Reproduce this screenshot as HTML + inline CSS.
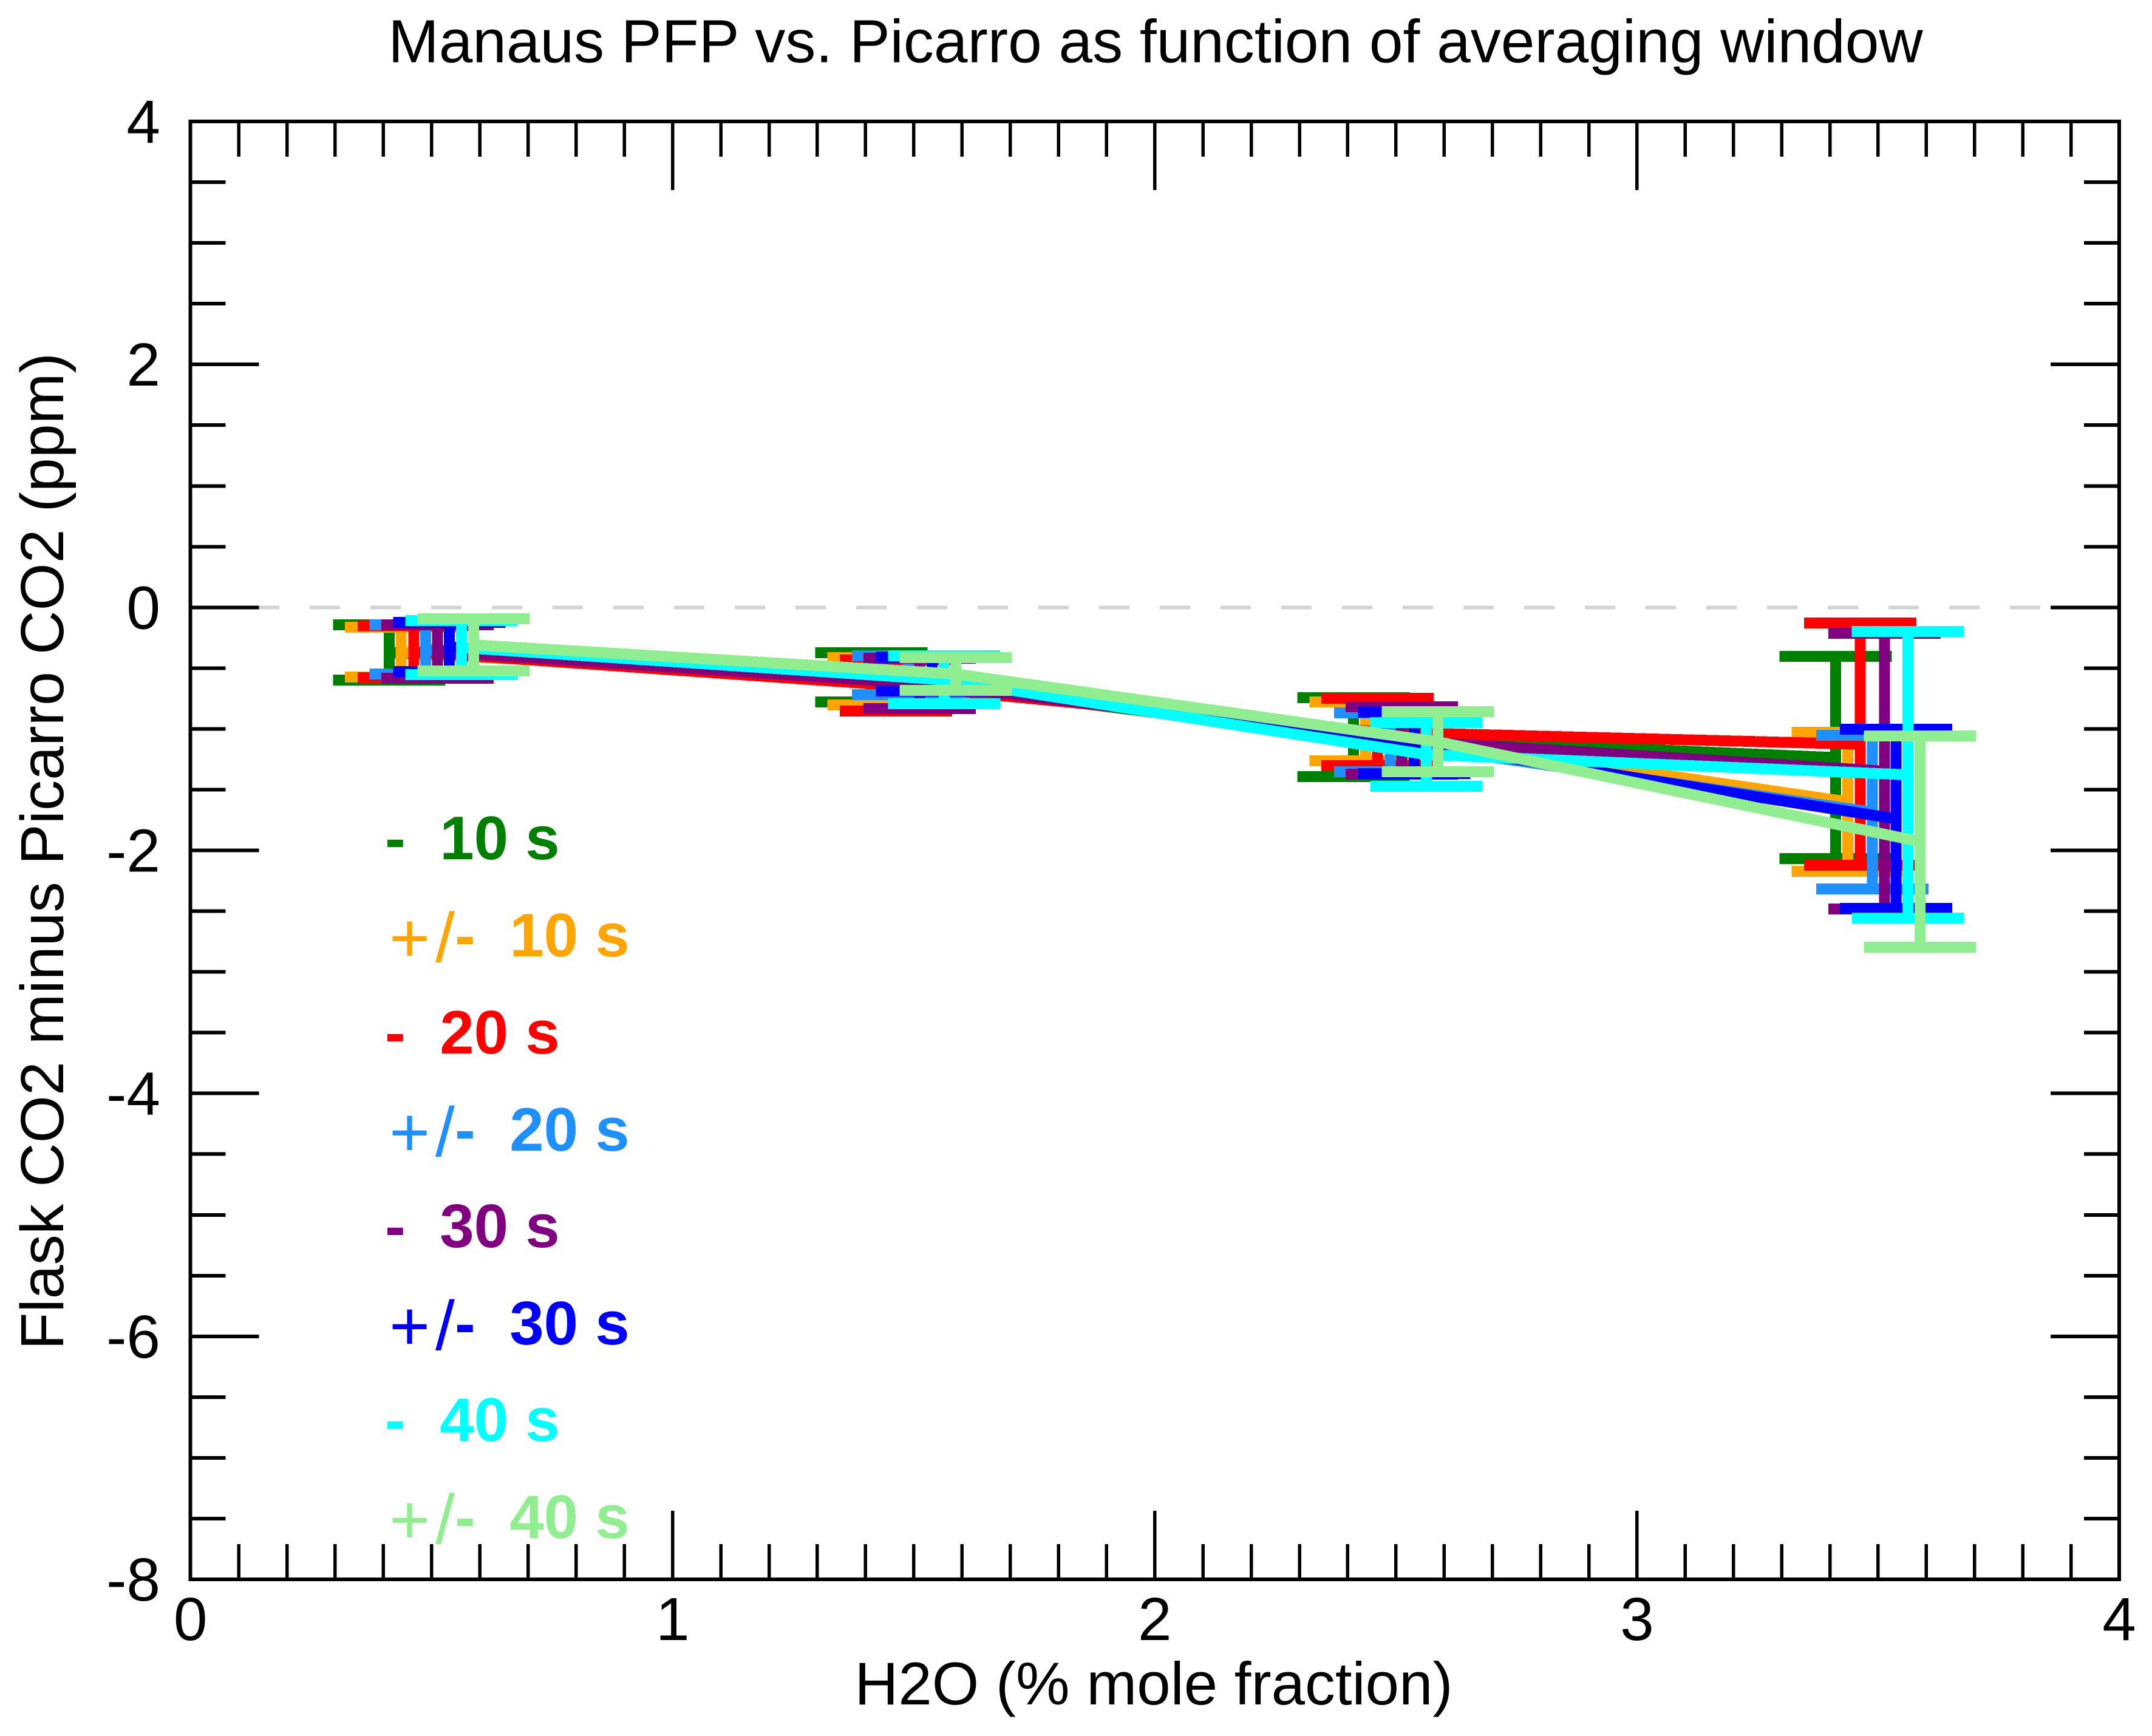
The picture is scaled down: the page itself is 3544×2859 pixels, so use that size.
<!DOCTYPE html>
<html lang="en">
<head>
<meta charset="utf-8">
<title>Manaus PFP vs. Picarro as function of averaging window</title>
<style>
html,body{margin:0;padding:0;background:#fff;width:3544px;height:2859px;overflow:hidden}
svg{display:block}
text{font-family:"Liberation Sans",Arial,sans-serif;white-space:pre;fill:#000}
.leg{font-size:101.5px;font-weight:bold}
.reg{font-size:115px;font-weight:normal}
</style>
</head>
<body>
<svg id="chart" xmlns="http://www.w3.org/2000/svg" width="3544" height="2859" viewBox="0 0 3544 2859">
  <rect x="0" y="0" width="3544" height="2859" fill="#fff"/>
  <text x="1903" y="102.7" font-size="100" text-anchor="middle">Manaus PFP vs. Picarro as function of averaging window</text>
  <text x="1900" y="2807" font-size="99.6" text-anchor="middle">H2O (% mole fraction)</text>
  <text x="0" y="0" font-size="100.5" text-anchor="middle" transform="translate(104 1402) rotate(-90)">Flask CO2 minus Picarro CO2 (ppm)</text>
  <g id="zero-layer"></g>
  <g id="series-layer"></g>
  <g id="axes-layer"></g>
  <g>
    <text class="leg" x="634" y="1415" style="fill:#008000">-  10 s</text>
    <text class="leg" y="1575" style="fill:#ffa500"><tspan class="reg" x="641" dy="9">+</tspan><tspan class="reg" x="717">/</tspan><tspan x="749" dy="-9">-  10 s</tspan></text>
    <text class="leg" x="634" y="1735" style="fill:#ff0000">-  20 s</text>
    <text class="leg" y="1895" style="fill:#1e90ff"><tspan class="reg" x="641" dy="9">+</tspan><tspan class="reg" x="717">/</tspan><tspan x="749" dy="-9">-  20 s</tspan></text>
    <text class="leg" x="634" y="2054" style="fill:#800080">-  30 s</text>
    <text class="leg" y="2214" style="fill:#0000ff"><tspan class="reg" x="641" dy="9">+</tspan><tspan class="reg" x="717">/</tspan><tspan x="749" dy="-9">-  30 s</tspan></text>
    <text class="leg" x="634" y="2373" style="fill:#00ffff">-  40 s</text>
    <text class="leg" y="2533" style="fill:#90ee90"><tspan class="reg" x="641" dy="9">+</tspan><tspan class="reg" x="717">/</tspan><tspan x="749" dy="-9">-  40 s</tspan></text>
  </g>
</svg>
<script>
// Tick values and labels
const xMajorTicks = [0, 1, 2, 3, 4];
const xTickLabels = ["0", "1", "2", "3", "4"];
const xMinorTicks = [0.1,0.2,0.3,0.4,0.5,0.6,0.7,0.8,0.9,1.1,1.2,1.3,1.4,1.5,1.6,1.7,1.8,1.9,2.1,2.2,2.3,2.4,2.5,2.6,2.7,2.8,2.9,3.1,3.2,3.3,3.4,3.5,3.6,3.7,3.8,3.9];
const yMajorTicks = [-8, -6, -4, -2, 0, 2, 4];
const yTickLabels = ["-8", "-6", "-4", "-2", "0", "2", "4"];
const yMinorTicks = [-7.5,-7,-6.5,-5.5,-5,-4.5,-3.5,-3,-2.5,-1.5,-1,-0.5,0.5,1,1.5,2.5,3,3.5];

// Series: H2O x, mean difference y, error half-height
const xMinus10 = [0.412, 1.412, 2.412, 3.412];
const yMinus10 = [-0.371, -0.576, -1.068, -1.236];
const eMinus10 = [0.227, 0.202, 0.325, 0.832];

const xPlusMinus10 = [0.437, 1.437, 2.437, 3.437];
const yPlusMinus10 = [-0.368, -0.608, -1.021, -1.600];
const ePlusMinus10 = [0.205, 0.195, 0.242, 0.572];

const xMinus20 = [0.463, 1.463, 2.462, 3.463];
const yMinus20 = [-0.365, -0.643, -1.026, -1.126];
const eMinus20 = [0.213, 0.210, 0.277, 0.997];

const xPlusMinus20 = [0.488, 1.488, 2.488, 3.488];
const yPlusMinus20 = [-0.346, -0.558, -1.111, -1.685];
const ePlusMinus20 = [0.202, 0.160, 0.242, 0.632];

const xMinus30 = [0.512, 1.512, 2.512, 3.513];
const yMinus30 = [-0.363, -0.626, -1.096, -1.348];
const eMinus30 = [0.220, 0.207, 0.277, 1.135];

const xPlusMinus30 = [0.537, 1.538, 2.538, 3.537];
const yPlusMinus30 = [-0.326, -0.548, -1.116, -1.740];
const ePlusMinus30 = [0.202, 0.140, 0.252, 0.737];

const xMinus40 = [0.562, 1.563, 2.563, 3.562];
const yMinus40 = [-0.331, -0.596, -1.211, -1.378];
const eMinus40 = [0.222, 0.197, 0.262, 1.180];

const xPlusMinus40 = [0.587, 1.587, 2.587, 3.587];
const yPlusMinus40 = [-0.308, -0.548, -1.106, -1.928];
const ePlusMinus40 = [0.215, 0.135, 0.247, 0.870];

const seriesNames = ["minus-10s", "plusminus-10s", "minus-20s", "plusminus-20s", "minus-30s", "plusminus-30s", "minus-40s", "plusminus-40s"];
const seriesColors = ["#008000", "#ffa500", "#ff0000", "#1e90ff", "#800080", "#0000ff", "#00ffff", "#90ee90"];

const SVGNS = "http://www.w3.org/2000/svg";
const plotLeft = 313.7, plotRight = 3490, plotTop = 200, plotBottom = 2601;
const xDomain = [0, 4], yDomain = [-8, 4];
function sx(v) { return plotLeft + (v - xDomain[0]) / (xDomain[1] - xDomain[0]) * (plotRight - plotLeft); }
function sy(v) { return plotBottom - (v - yDomain[0]) / (yDomain[1] - yDomain[0]) * (plotBottom - plotTop); }

function segment(parent, x1, y1, x2, y2, color, width) {
  const el = document.createElementNS(SVGNS, "line");
  el.setAttribute("x1", x1);
  el.setAttribute("y1", y1);
  el.setAttribute("x2", x2);
  el.setAttribute("y2", y2);
  el.setAttribute("stroke", color);
  el.setAttribute("stroke-width", width);
  el.setAttribute("shape-rendering", "crispEdges");
  parent.appendChild(el);
  return el;
}

// Zero reference line
const zeroLayer = document.getElementById("zero-layer");
const zeroLine = segment(zeroLayer, sx(0), sy(0), sx(4), sy(0), "#d3d3d3", 6);


zeroLine.setAttribute("stroke-dasharray", "50 50");
zeroLine.setAttribute("stroke-dashoffset", "3.7");

// Series marks
const seriesLayer = document.getElementById("series-layer");
const seriesX = [xMinus10, xPlusMinus10, xMinus20, xPlusMinus20, xMinus30, xPlusMinus30, xMinus40, xPlusMinus40];
const seriesY = [yMinus10, yPlusMinus10, yMinus20, yPlusMinus20, yMinus30, yPlusMinus30, yMinus40, yPlusMinus40];
const seriesE = [eMinus10, ePlusMinus10, eMinus20, ePlusMinus20, eMinus30, ePlusMinus30, eMinus40, ePlusMinus40];
const markWidth = 18, capHalfWidth = 92.5;

seriesNames.forEach(function (name, s) {
  const color = seriesColors[s];
  const group = document.createElementNS(SVGNS, "g");
  
  
  seriesLayer.appendChild(group);

  const line = document.createElementNS(SVGNS, "polyline");
  
  
  line.setAttribute("points", seriesX[s].map(function (x, i) { return sx(x) + "," + sy(seriesY[s][i]); }).join(" "));
  line.setAttribute("fill", "none");
  line.setAttribute("stroke", color);
  line.setAttribute("stroke-width", markWidth);
  line.setAttribute("stroke-linejoin", "miter");
  line.setAttribute("shape-rendering", "crispEdges");
  group.appendChild(line);

  seriesX[s].forEach(function (x, i) {
    const px = sx(x);
    const top = sy(seriesY[s][i] + seriesE[s][i]);
    const bottom = sy(seriesY[s][i] - seriesE[s][i]);
    const stem = segment(group, px, top, px, bottom, color, markWidth);
    
    
    const capTop = segment(group, px - capHalfWidth, top, px + capHalfWidth, top, color, markWidth);
    
    
    const capBottom = segment(group, px - capHalfWidth, bottom, px + capHalfWidth, bottom, color, markWidth);
    
    
  });
});

// Axes
const axesLayer = document.getElementById("axes-layer");
const frame = document.createElementNS(SVGNS, "rect");


frame.setAttribute("x", plotLeft);
frame.setAttribute("y", plotTop);
frame.setAttribute("width", plotRight - plotLeft);
frame.setAttribute("height", plotBottom - plotTop);
frame.setAttribute("fill", "none");
frame.setAttribute("stroke", "#000");
frame.setAttribute("stroke-width", 6);
frame.setAttribute("shape-rendering", "crispEdges");
axesLayer.appendChild(frame);

const majorLen = 113, minorLen = 58, tickWidth = 5.5;
function drawXTick(v, len, kind) {
  const px = sx(v);
  const bottomTick = segment(axesLayer, px, plotBottom, px, plotBottom - len, "#000", tickWidth);
  
  
  const topTick = segment(axesLayer, px, plotTop, px, plotTop + len, "#000", tickWidth);
  
  
}
function drawYTick(v, len, kind) {
  const py = sy(v);
  const leftTick = segment(axesLayer, plotLeft, py, plotLeft + len, py, "#000", 6);
  
  
  const rightTick = segment(axesLayer, plotRight, py, plotRight - len, py, "#000", 6);
  
  
}
xMinorTicks.forEach(function (v) { drawXTick(v, minorLen, 'minor'); });
yMinorTicks.forEach(function (v) { drawYTick(v, minorLen, 'minor'); });
xMajorTicks.forEach(function (v, i) {
  drawXTick(v, majorLen, 'major');
  const label = document.createElementNS(SVGNS, "text");
  
  
  label.setAttribute("x", sx(v));
  label.setAttribute("y", 2701);
  label.setAttribute("font-size", 100);
  label.setAttribute("text-anchor", "middle");
  label.textContent = xTickLabels[i];
  axesLayer.appendChild(label);
});
yMajorTicks.forEach(function (v, i) {
  drawYTick(v, majorLen, 'major');
  const label = document.createElementNS(SVGNS, "text");
  
  
  label.setAttribute("x", 264);
  label.setAttribute("y", sy(v) + 35);
  label.setAttribute("font-size", 100);
  label.setAttribute("text-anchor", "end");
  label.textContent = yTickLabels[i];
  axesLayer.appendChild(label);
});
</script>
</body>
</html>
